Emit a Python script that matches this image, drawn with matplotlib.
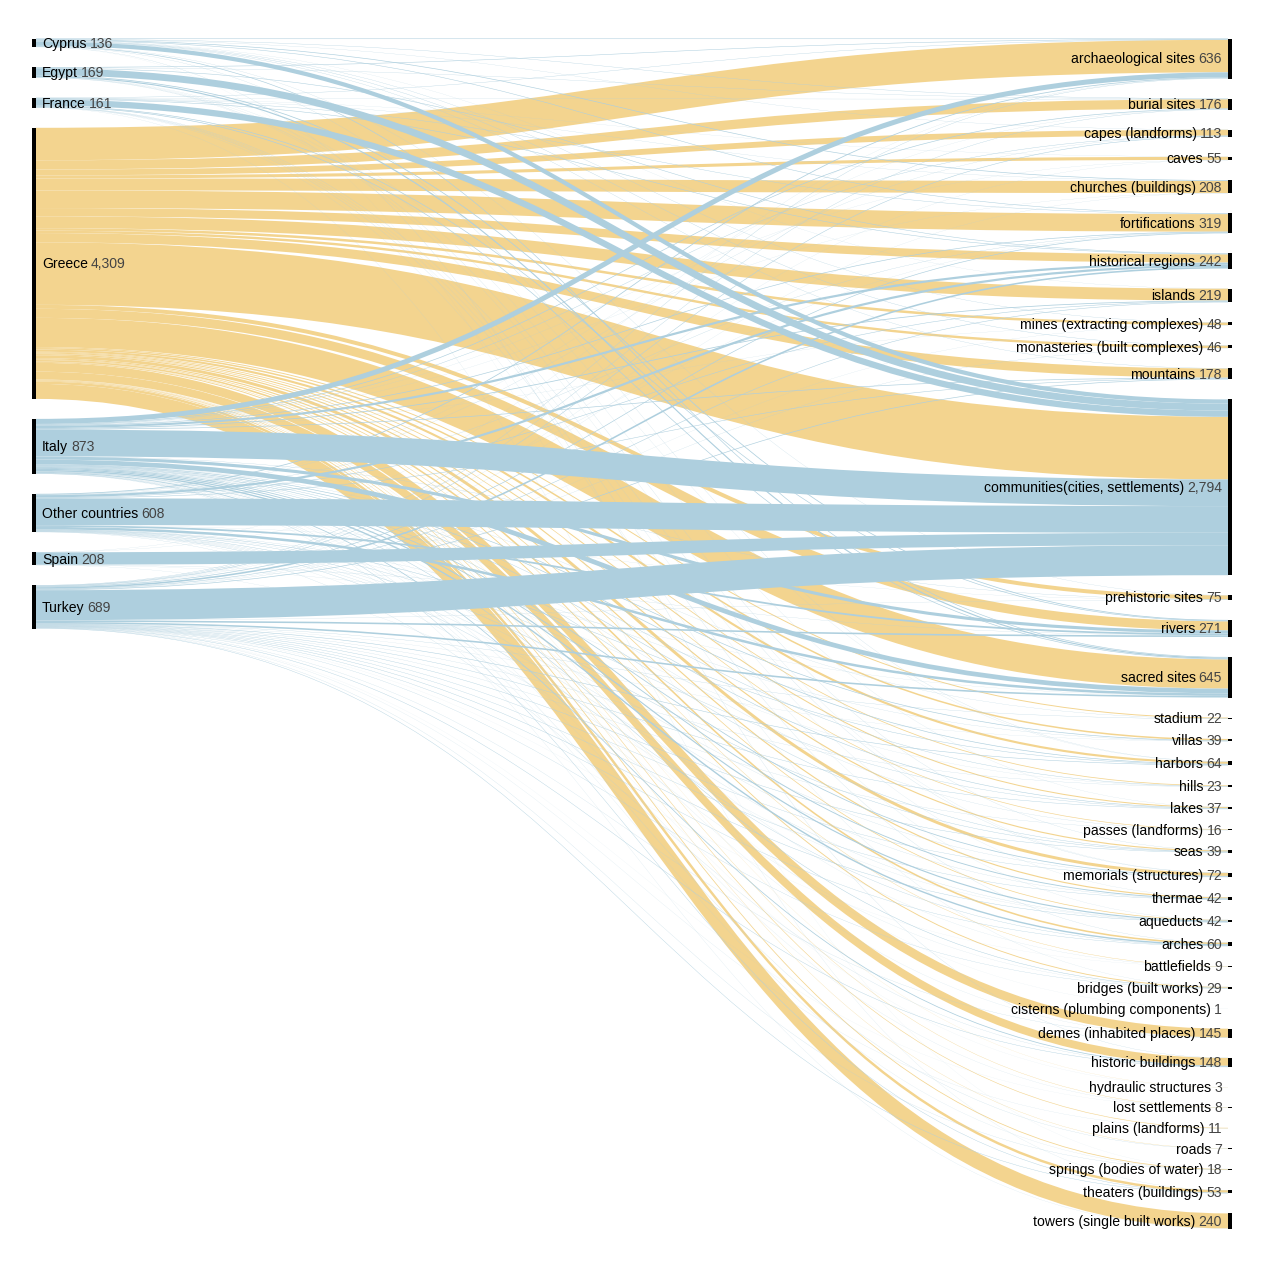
import numpy as np
import matplotlib.pyplot as plt
from matplotlib.path import Path
from matplotlib.patches import PathPatch, Rectangle

plt.rcParams['font.family'] = ['Liberation Sans', 'DejaVu Sans']

countries = ['Cyprus', 'Egypt', 'France', 'Greece', 'Italy', 'Other countries', 'Spain', 'Turkey']

place_types = ['archaeological sites', 'burial sites', 'capes (landforms)', 'caves',
               'churches (buildings)', 'fortifications', 'historical regions', 'islands',
               'mines (extracting complexes)', 'monasteries (built complexes)', 'mountains',
               'communities(cities, settlements)', 'prehistoric sites', 'rivers', 'sacred sites',
               'stadium', 'villas', 'harbors', 'hills', 'lakes', 'passes (landforms)', 'seas',
               'memorials (structures)', 'thermae', 'aqueducts', 'arches', 'battlefields',
               'bridges (built works)', 'cisterns (plumbing components)', 'demes (inhabited places)',
               'historic buildings', 'hydraulic structures', 'lost settlements', 'plains (landforms)',
               'roads', 'springs (bodies of water)', 'theaters (buildings)', 'towers (single built works)']

# number of places per country and type (same order as place_types)
cyprus = [8, 5, 3, 0, 10, 8, 0, 2, 4, 5, 4, 67, 3, 0, 10, 0, 0, 3, 0, 0, 0, 0, 0, 0, 0, 0, 0, 0, 0, 0, 3, 0, 0, 0, 0, 1, 0, 0]
egypt = [8, 4, 0, 0, 0, 0, 8, 0, 0, 0, 0, 110, 0, 12, 18, 0, 0, 2, 0, 2, 0, 3, 2, 0, 0, 0, 0, 0, 0, 0, 0, 0, 0, 0, 0, 0, 0, 0]
france = [5, 3, 0, 2, 3, 6, 8, 0, 0, 0, 0, 100, 0, 10, 10, 0, 0, 0, 0, 0, 0, 0, 3, 2, 2, 3, 0, 2, 0, 0, 0, 0, 0, 0, 0, 0, 2, 0]
greece = [516, 147, 93, 49, 191, 279, 131, 189, 40, 38, 146, 995, 63, 144, 465, 15, 24, 34, 12, 16, 10, 18, 47, 18, 11, 25, 6, 14, 0, 140, 124, 2, 5, 9, 4, 12, 39, 238]
italy = [80, 10, 6, 2, 2, 10, 35, 12, 2, 0, 10, 424, 4, 49, 75, 3, 10, 10, 6, 8, 3, 6, 12, 14, 18, 22, 2, 7, 1, 2, 12, 1, 2, 0, 3, 2, 6, 2]
other = [12, 2, 3, 0, 0, 4, 35, 8, 0, 0, 8, 424, 2, 28, 40, 0, 3, 7, 2, 5, 0, 6, 3, 3, 3, 5, 0, 2, 0, 0, 3, 0, 0, 0, 0, 0, 0, 0]
spain = [2, 0, 0, 0, 0, 2, 0, 0, 0, 0, 0, 197, 0, 3, 2, 0, 0, 0, 0, 0, 0, 0, 0, 0, 2, 0, 0, 0, 0, 0, 0, 0, 0, 0, 0, 0, 0, 0]
turkey = [5, 5, 8, 2, 2, 10, 25, 8, 2, 3, 10, 477, 3, 25, 25, 4, 2, 8, 3, 6, 3, 6, 5, 5, 6, 5, 1, 4, 0, 3, 6, 0, 1, 2, 0, 3, 6, 0]

flow = np.array([cyprus, egypt, france, greece, italy, other, spain, turkey], dtype=float)
src_tot = flow.sum(axis=1)
tgt_tot = flow.sum(axis=0)

YELLOW = '#f3d48f'
BLUE = '#aecfde'

W, H = 1282, 1280
fig = plt.figure(figsize=(W / 100, H / 100), dpi=100)
ax = fig.add_axes([0, 0, 1, 1])
ax.set_xlim(0, W)
ax.set_ylim(H, 0)
ax.axis('off')

top, bottom, pad = 38.5, 1228.5, 20
ky = (bottom - top - (len(place_types) - 1) * pad) / tgt_tot.sum()
x_left, x_right, nw = 32, 1228, 4


def stack(vals):
    out = []
    y = top
    for v in vals:
        out.append(y)
        y += v * ky + pad
    return np.array(out)


src_y0 = stack(src_tot)
tgt_y0 = stack(tgt_tot)

# links: greece first so the blue ones sit on top
order = [3] + [i for i in range(len(countries)) if i != 3]
xs, xt = x_left + nw, x_right
xm = (xs + xt) / 2
for i in order:
    col = YELLOW if countries[i] == 'Greece' else BLUE
    for j in range(len(place_types)):
        v = flow[i, j]
        if v <= 0:
            continue
        w = v * ky
        sy = src_y0[i] + flow[i, :j].sum() * ky + w / 2
        ty = tgt_y0[j] + flow[:i, j].sum() * ky + w / 2
        p = Path([(xs, sy), (xm, sy), (xm, ty), (xt, ty)],
                 [Path.MOVETO, Path.CURVE4, Path.CURVE4, Path.CURVE4])
        ax.add_patch(PathPatch(p, fill=False, edgecolor=col, lw=w * 0.72,
                               capstyle='butt'))

fs = 10.1
dy = 0.35 * fs / 0.72   # baseline shift like dy=0.35em
gap = 2.2
for i, name in enumerate(countries):
    h = src_tot[i] * ky
    ax.add_patch(Rectangle((x_left, src_y0[i]), nw, h, color='black', lw=0))
    t = ax.text(x_left + nw + 6, src_y0[i] + h / 2 + dy, name, ha='left', va='baseline',
                fontsize=fs, color='black')
    ax.annotate(f'{int(src_tot[i]):,}', xy=(1, 0.5), xycoords=t, xytext=(gap, 0),
                textcoords='offset points', ha='left', va='center', fontsize=fs, color='#444')

for j, name in enumerate(place_types):
    h = tgt_tot[j] * ky
    ax.add_patch(Rectangle((x_right, tgt_y0[j]), nw, h, color='black', lw=0))
    t = ax.text(x_right - 6, tgt_y0[j] + h / 2 + dy, f'{int(tgt_tot[j]):,}', ha='right',
                va='baseline', fontsize=fs, color='#444')
    ax.annotate(name, xy=(0, 0.5), xycoords=t, xytext=(-gap, 0),
                textcoords='offset points', ha='right', va='center', fontsize=fs, color='black')

fig.savefig('out.png', dpi=100)
